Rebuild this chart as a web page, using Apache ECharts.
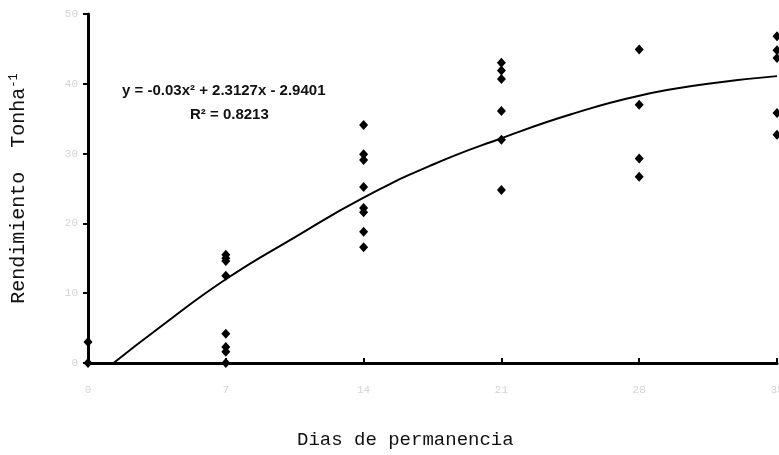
<!DOCTYPE html>
<html>
<head>
<meta charset="utf-8">
<script src="https://cdn.jsdelivr.net/npm/echarts@6/dist/echarts.min.js"></script>
<style>
  html, body { margin: 0; padding: 0; background: #fff; }
  #chart { width: 779px; height: 455px; }
</style>
</head>
<body>
<div id="chart"></div>
<script>
// dias de permanencia y rendimiento observado
const dias = [0, 7, 14, 21, 28, 35]
const obsDia0 = [3.0, 0]
const obsDia7 = [15.5, 15.0, 14.6, 12.5, 4.2, 2.3, 1.6, 0]
const obsDia14 = [34.1, 29.9, 29.1, 25.2, 22.2, 21.6, 18.8, 16.6]
const obsDia21 = [43.0, 41.9, 40.7, 36.1, 32.0, 24.8]
const obsDia28 = [44.9, 37.0, 29.3, 26.7]
const obsDia35 = [46.8, 44.8, 43.7, 35.8, 32.7]

// curva de tendencia
const curvaX = [1.3, 3.5, 7, 10.5, 14, 17.5, 21, 24.5, 28, 31.5, 35]
const curvaY = [0, 4.8, 12, 18, 23.7, 28.4, 32.2, 35.6, 38.3, 40, 41.1]

const yTicks = [0, 10, 20, 30, 40, 50]

const obs = [obsDia0, obsDia7, obsDia14, obsDia21, obsDia28, obsDia35]
const puntos = []
obs.forEach((vals, i) => {
  vals.forEach(v => puntos.push([dias[i], v]))
})
const curva = curvaX.map((x, i) => [x, curvaY[i]])

const myChart = echarts.init(document.getElementById('chart'))
const option = {
  backgroundColor: '#fff',
  animation: false,
  grid: { left: 88, right: 2, top: 14, bottom: 92, outerBoundsMode: 'none', containLabel: false },
  xAxis: {
    type: 'value',
    min: 0,
    max: 35,
    interval: 7,
    axisLine: { lineStyle: { color: '#000', width: 3 } },
    axisTick: { inside: true, length: 5, lineStyle: { color: '#000', width: 2 } },
    axisLabel: { color: '#d4d4d4', fontSize: 11, margin: 22, fontFamily: 'Liberation Mono' },
    splitLine: { show: false }
  },
  yAxis: {
    type: 'value',
    min: 0,
    max: 50,
    interval: 10,
    axisLine: { show: true, lineStyle: { color: '#000', width: 3 } },
    axisTick: { show: true, length: 5, lineStyle: { color: '#000', width: 2 } },
    axisLabel: {
      color: '#d4d4d4', fontSize: 11, margin: 10, fontFamily: 'Liberation Mono',
      formatter: v => yTicks.includes(v) ? String(v) : ''
    },
    splitLine: { show: false },
    name: 'Rendimiento  Tonha{s|-1}',
    nameLocation: 'middle',
    nameGap: 58,
    nameTextStyle: {
      fontFamily: 'Liberation Mono', fontSize: 20, color: '#111',
      rich: { s: { fontFamily: 'Liberation Mono', fontSize: 12, color: '#111', verticalAlign: 'top', padding: [0, 0, 10, 0] } }
    }
  },
  graphic: [
    {
      type: 'text', left: 122, top: 83,
      style: { text: 'y = -0.03x² + 2.3127x - 2.9401', font: 'bold 15px "Liberation Sans"', fill: '#111' }
    },
    {
      type: 'text', left: 190, top: 107,
      style: { text: 'R² = 0.8213', font: 'bold 15px "Liberation Sans"', fill: '#111' }
    },
    {
      type: 'text', left: 297, top: 430,
      style: { text: 'Dias de permanencia', font: '19px "Liberation Mono"', fill: '#111' }
    }
  ],
  series: [
    {
      type: 'line',
      data: curva,
      smooth: true,
      showSymbol: false,
      lineStyle: { color: '#000', width: 2 },
      z: 2
    },
    {
      type: 'scatter',
      data: puntos,
      symbol: 'diamond',
      symbolSize: [9, 10],
      itemStyle: { color: '#000', opacity: 1 },
      z: 3
    }
  ]
}
myChart.setOption(option)
</script>
</body>
</html>
